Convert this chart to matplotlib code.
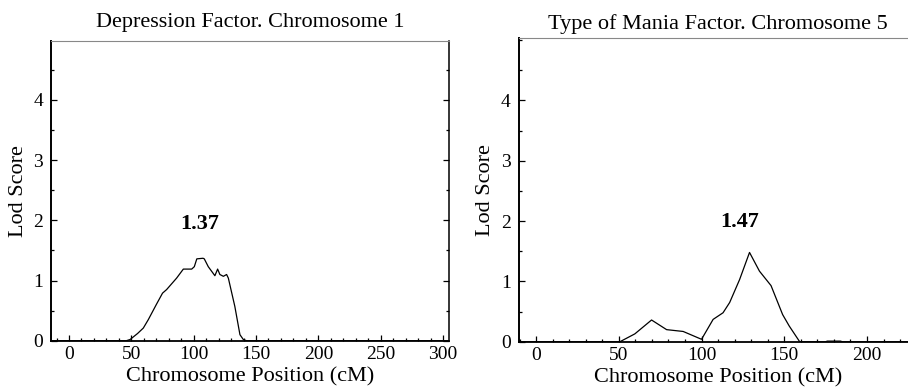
import numpy as np
import matplotlib
matplotlib.use("Agg")
import matplotlib.pyplot as plt
from matplotlib.ticker import MultipleLocator

plt.rcParams['font.family'] = ['Liberation Serif', 'DejaVu Serif']

# depression factor, chromosome 1
pos_dep = [-14, 46, 49, 55, 59.6, 63.6, 70, 75, 78.3, 86.3, 91.7, 98.4, 100.5, 102.5,
           107.5, 108.5, 111.7, 117, 119.2, 121, 123.8, 126.4, 127.8, 133, 137.1, 139.8, 142.4, 305]
lod_dep = [0, 0, 0.02, 0.12, 0.21, 0.35, 0.6, 0.79, 0.85, 1.04, 1.19, 1.19, 1.23, 1.36,
           1.37, 1.36, 1.23, 1.08, 1.19, 1.10, 1.07, 1.10, 1.04, 0.57, 0.10, 0.02, 0, 0]

# type of mania factor, chromosome 5
pos_man = [-10, 50.7, 59.7, 69.8, 78.9, 88.9, 100, 107, 113, 117, 123, 129, 135, 142,
           149, 153, 159.3, 175, 176, 184, 185, 231]
lod_man = [0, 0, 0.13, 0.36, 0.20, 0.17, 0.04, 0.37, 0.48, 0.65, 1.03, 1.48, 1.17, 0.93,
           0.45, 0.26, 0, 0, 0.01, 0.01, 0, 0]

titles = ["Depression Factor. Chromosome 1", "Type of Mania Factor. Chromosome 5"]
peaks = ["1.37", "1.47"]
peak_xy = [(105, 1.94), (123, 1.99)]

fig = plt.figure(figsize=(9.08, 3.88), dpi=100)
ax1 = fig.add_axes([0.0565, 0.1219, 0.4383, 0.7724])
ax2 = fig.add_axes([0.5716, 0.1193, 0.4383, 0.7835])

setup = [(ax1, pos_dep, lod_dep, (-14.2, 305), 10),
         (ax2, pos_man, lod_man, (-10.3, 230.2), 6)]

for i, (ax, x, y, xl, tpad) in enumerate(setup):
    ax.plot(x, y, color='black', lw=0.9)
    ax.set_xlim(xl)
    ax.set_ylim(0, 4.98 if i == 0 else 5.04)
    ax.xaxis.set_major_locator(MultipleLocator(50))
    ax.xaxis.set_minor_locator(MultipleLocator(10))
    ax.yaxis.set_major_locator(MultipleLocator(1))
    ax.yaxis.set_minor_locator(MultipleLocator(0.5))
    ax.set_yticks([0, 1, 2, 3, 4])
    ax.tick_params(which='both', direction='in', top=False, right=True, labelsize=14,
                   width=0.9, color='black')
    ax.tick_params(which='major', length=4)
    ax.tick_params(which='minor', length=2.5)
    ax.tick_params(axis='y', pad=6)
    ax.tick_params(axis='x', pad=4)
    ax.spines['top'].set_color('#888888')
    ax.spines['left'].set_linewidth(1.4)
    ax.spines['bottom'].set_linewidth(1.3)
    ax.spines['right'].set_linewidth(1.1)
    ax.set_title(titles[i], fontsize=16, pad=tpad)
    ax.set_xlabel("Chromosome Position (cM)", fontsize=16, labelpad=3)
    ax.set_ylabel("Lod Score", fontsize=16, labelpad=4)
    ax.text(peak_xy[i][0], peak_xy[i][1], peaks[i], fontsize=16, fontweight='bold',
            ha='center', va='center')

ax2.spines['right'].set_visible(False)

fig.savefig("out.png", dpi=100)
